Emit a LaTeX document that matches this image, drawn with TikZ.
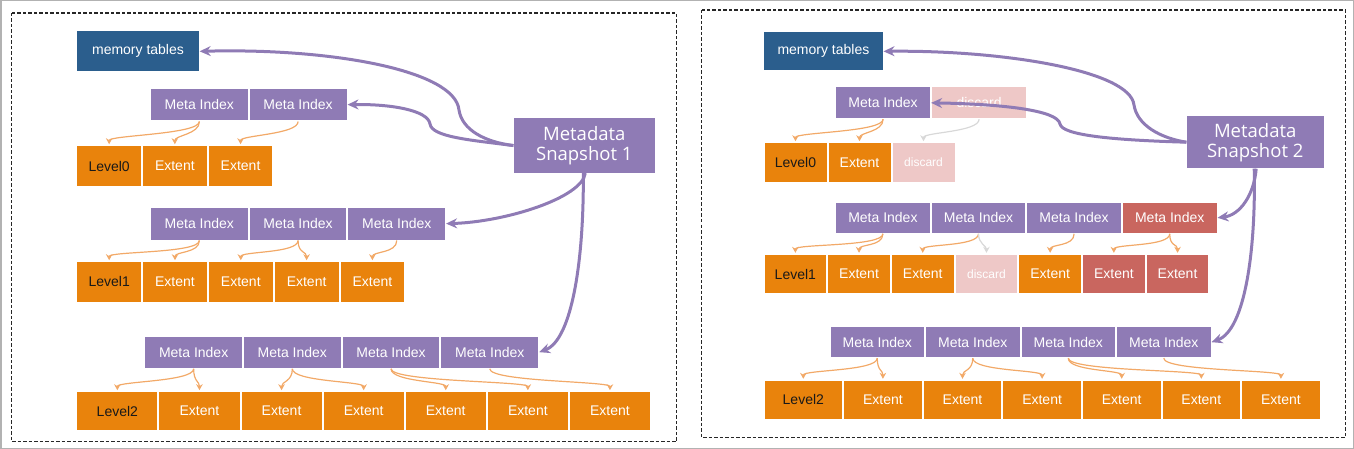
\documentclass[tikz,border=0pt]{standalone}
\usepackage{fontspec}
\setmainfont{Liberation Sans}
\newfontfamily\snapfont{Open Sans}
\usetikzlibrary{positioning,arrows.meta}

\definecolor{metapurple}{HTML}{8F7BB5}
\definecolor{lvlorange}{HTML}{E9830C}
\definecolor{memblue}{HTML}{2B5E8D}
\definecolor{hotred}{HTML}{C9665F}
\definecolor{gonepink}{HTML}{EEC8C7}
\definecolor{linkorange}{HTML}{F2A968}
\definecolor{fadegray}{HTML}{D8D8D8}

\begin{document}
\begin{tikzpicture}[x=1pt,y=-1pt,
  box/.style={draw=white,line width=1pt,inner sep=0pt,anchor=north west,text=white,font=\fontsize{14}{16}\selectfont},
  mem/.style={box,fill=memblue},
  meta/.style={box,fill=metapurple},
  lvl/.style={box,fill=lvlorange,text=black!90},
  ext/.style={box,fill=lvlorange},
  hot/.style={fill=hotred},
  gone/.style={fill=gonepink},
  small/.style={font=\fontsize{12}{14}\selectfont},
  snap/.style={fill=metapurple,text=white,inner sep=0pt,anchor=north west,align=center,font=\snapfont\fontsize{18.5}{20}\selectfont},
  ptr/.style={draw=metapurple,line width=3pt,-{Stealth[length=11pt,width=10pt]}},
  link/.style={draw=linkorange,line width=1.2pt,-{Stealth[length=6pt,width=6.5pt]},shorten >=1pt},
  fade/.style={link,draw=fadegray},
  frame/.style={draw=black!85,line width=1.1pt,dash pattern=on 3.5pt off 2pt}]

\useasboundingbox (0,0) rectangle (1354,449);
\draw[gray!60,line width=1.5pt] (0.75,0.75) rectangle (1353.25,448.25);
\draw[frame] (11.7,13) rectangle (676.5,441.7);
\draw[frame] (701.5,10) rectangle (1345.5,437.3);

% snapshot 1
\node[mem,minimum width=122.4pt,minimum height=40.7pt] (memL) at (76.3,30.5) {memory tables};
\node[snap,minimum width=141.4pt,minimum height=54.7pt] (snapL) at (513.4,118) {Metadata\\Snapshot 1};

\node[meta,minimum width=97.75pt,minimum height=32.7pt] (mA0-1) at (150,87.8) {Meta Index};
\node[meta,minimum width=97.75pt,minimum height=32.7pt,right=0pt of mA0-1] (mA0-2) {Meta Index};
\node[lvl,minimum width=64.7pt,minimum height=40.6pt] (lA0-0) at (76.3,145.2) {Level0};
\foreach \i [count=\p from 0] in {1,2}
  \node[ext,minimum width=64.7pt,minimum height=40.6pt,right=0pt of lA0-\p] (lA0-\i) {Extent};

\node[meta,minimum width=97.7pt,minimum height=32.7pt] (mA1-1) at (150,206.8) {Meta Index};
\foreach \i [count=\p from 1] in {2,3}
  \node[meta,minimum width=97.7pt,minimum height=32.7pt,right=0pt of mA1-\p] (mA1-\i) {Meta Index};
\node[lvl,minimum width=64.8pt,minimum height=40.3pt] (lA1-0) at (76.3,261.2) {Level1};
\foreach \i [count=\p from 0] in {1,...,4}
  \node[ext,minimum width=64.8pt,minimum height=40.3pt,right=0pt of lA1-\p] (lA1-\i) {Extent};

\node[meta,minimum width=97.7pt,minimum height=32.3pt] (mA2-1) at (144.3,335.5) {Meta Index};
\foreach \i [count=\p from 1] in {2,3,4}
  \node[meta,minimum width=97.7pt,minimum height=32.3pt,right=0pt of mA2-\p] (mA2-\i) {Meta Index};
\node[lvl,minimum width=81.1pt,minimum height=38.6pt] (lA2-0) at (76.3,391.2) {Level2};
\foreach \i [count=\p from 0] in {1,...,6}
  \node[ext,minimum width=81.1pt,minimum height=38.6pt,right=0pt of lA2-\p] (lA2-\i) {Extent};

% snapshot 2
\node[mem,minimum width=119.2pt,minimum height=39.3pt] (memR) at (763.3,31.2) {memory tables};
\node[snap,minimum width=137.2pt,minimum height=52.6pt] (snapR) at (1186.4,115.7) {Metadata\\Snapshot 2};

\node[meta,minimum width=95pt,minimum height=31.7pt] (mB0-1) at (835.1,86.5) {Meta Index};
\node[meta,gone,minimum width=95pt,minimum height=31.7pt,right=0pt of mB0-1] (mB0-2) {discard};
\node[lvl,minimum width=63pt,minimum height=40pt] (lB0-0) at (763.5,142.2) {Level0};
\node[ext,minimum width=63pt,minimum height=40pt,right=0pt of lB0-0] (lB0-1) {Extent};
\node[ext,gone,small,minimum width=63pt,minimum height=40pt,right=0pt of lB0-1] (lB0-2) {discard};

\node[meta,minimum width=94.6pt,minimum height=31pt] (mB1-1) at (835.1,201.8) {Meta Index};
\node[meta,minimum width=94.6pt,minimum height=31pt,right=0pt of mB1-1] (mB1-2) {Meta Index};
\node[meta,minimum width=94.6pt,minimum height=31pt,right=0pt of mB1-2] (mB1-3) {Meta Index};
\node[meta,hot,minimum width=94.6pt,minimum height=31pt,right=0pt of mB1-3] (mB1-4) {Meta Index};
\node[lvl,minimum width=62.7pt,minimum height=39.4pt] (lB1-0) at (763.5,253.8) {Level1};
\node[ext,minimum width=62.7pt,minimum height=39.4pt,right=0pt of lB1-0] (lB1-1) {Extent};
\node[ext,minimum width=62.7pt,minimum height=39.4pt,right=0pt of lB1-1] (lB1-2) {Extent};
\node[ext,gone,small,minimum width=62.7pt,minimum height=39.4pt,right=0pt of lB1-2] (lB1-3) {discard};
\node[ext,minimum width=62.7pt,minimum height=39.4pt,right=0pt of lB1-3] (lB1-4) {Extent};
\node[ext,hot,minimum width=62.7pt,minimum height=39.4pt,right=0pt of lB1-4] (lB1-5) {Extent};
\node[ext,hot,minimum width=62.7pt,minimum height=39.4pt,right=0pt of lB1-5] (lB1-6) {Extent};

\node[meta,minimum width=94.5pt,minimum height=31pt] (mB2-1) at (829.5,326.2) {Meta Index};
\foreach \i [count=\p from 1] in {2,3,4}
  \node[meta,minimum width=94.5pt,minimum height=31pt,right=0pt of mB2-\p] (mB2-\i) {Meta Index};
\node[lvl,minimum width=78.6pt,minimum height=39pt] (lB2-0) at (763.5,379.8) {Level2};
\foreach \i [count=\p from 0] in {1,...,6}
  \node[ext,minimum width=78.6pt,minimum height=39pt,right=0pt of lB2-\p] (lB2-\i) {Extent};

% index -> extent links
\foreach \a/\b in {mA0-1/lA0-0,mA0-1/lA0-1,mA0-2/lA0-2,
    mA1-1/lA1-0,mA1-1/lA1-1,mA1-2/lA1-2,mA1-2/lA1-3,mA1-3/lA1-4,
    mA2-1/lA2-0,mA2-1/lA2-1,mA2-2/lA2-2,mA2-2/lA2-3,mA2-3/lA2-4,mA2-3/lA2-5,mA2-4/lA2-6,
    mB0-1/lB0-0,mB0-1/lB0-1,
    mB1-1/lB1-0,mB1-1/lB1-1,mB1-2/lB1-2,mB1-3/lB1-4,mB1-4/lB1-5,mB1-4/lB1-6,
    mB2-1/lB2-0,mB2-1/lB2-1,mB2-2/lB2-2,mB2-2/lB2-3,mB2-3/lB2-4,mB2-3/lB2-5,mB2-4/lB2-6}
  \draw[link] (\a.south) .. controls +(0,13) and +(0,-10) .. (\b.north);
\draw[fade] (mB0-2.south) .. controls +(0,13) and +(0,-10) .. (lB0-2.north);
\draw[fade] (mB1-2.south) .. controls +(0,10) and +(0,-8) .. (lB1-3.north);

% snapshot pointers
\draw[ptr] (snapL.west) .. controls (485,142) and (462,130) .. (459,110)
  .. controls (455,70) and (330,48) .. (memL.east);
\draw[ptr] (snapL.west) .. controls (470,140) and (432,137) .. (430,124)
  .. controls (428,110) and (390,104) .. (mA0-2.east);
\draw[ptr] ([xshift=1pt]snapL.south) .. controls (582,198) and (505,222) .. (mA1-3.east);
\draw[ptr] ([xshift=-1pt]snapL.south) .. controls (584,260) and (572,340) .. (mA2-4.east);

\draw[ptr] (snapR.west) .. controls (1160,138) and (1137,125) .. (1134,105)
  .. controls (1130,70) and (1000,50) .. (memR.east);
\draw[ptr] (snapR.west) .. controls (1110,140) and (1062,135) .. (1060,124)
  .. controls (1058,110) and (1000,104) .. (mB0-1.east);
\draw[ptr] ([xshift=1pt]snapR.south) .. controls (1254,195) and (1240,215) .. (mB1-4.east);
\draw[ptr] ([xshift=-1pt]snapR.south) .. controls (1256,250) and (1245,330) .. (mB2-4.east);
\end{tikzpicture}
\end{document}
